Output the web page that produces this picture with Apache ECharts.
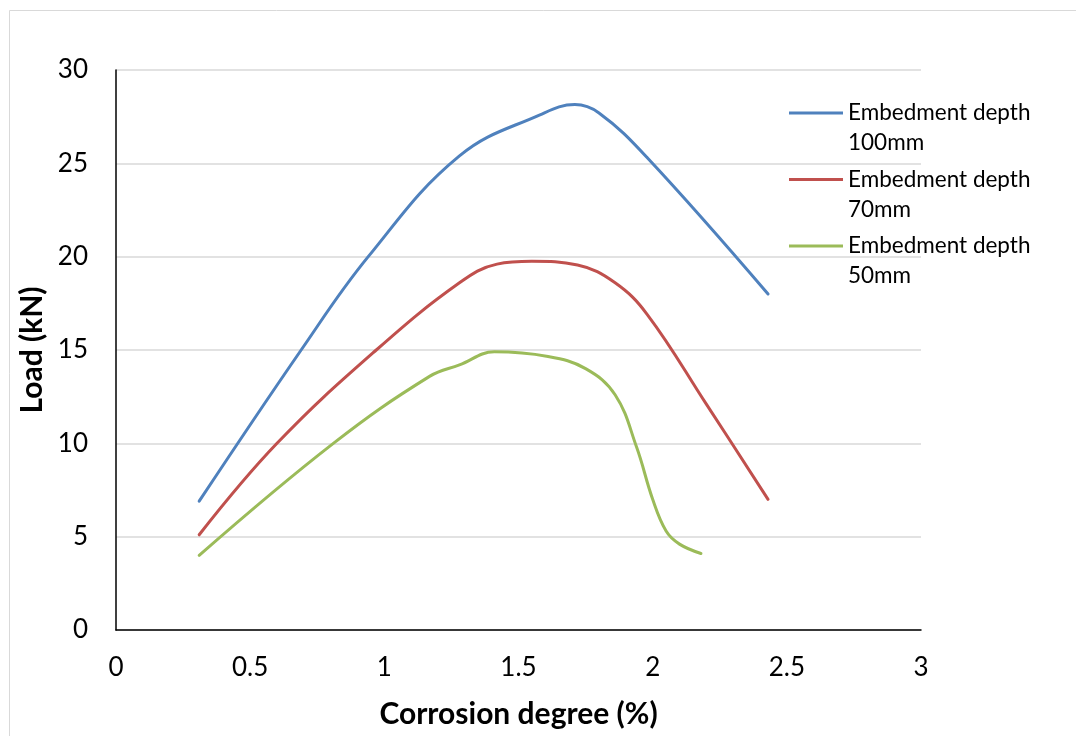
<!DOCTYPE html>
<html>
<head>
<meta charset="utf-8">
<script src="https://cdn.jsdelivr.net/npm/echarts@6/dist/echarts.min.js"></script>
<style>
html,body{margin:0;padding:0;background:#fff;}
#chart{width:1076px;height:736px;}
</style>
</head>
<body>
<div id="chart"></div>
<script>
// ---- Data ----
const seriesNames = ['Embedment depth\n100mm', 'Embedment depth\n70mm', 'Embedment depth\n50mm'];
const depth100 = [[0.31,6.9],[0.69,15],[0.94,20],[1.28,25.4],[1.58,27.6],[1.71,28.15],[1.8,27.7],[1.98,25.3],[2.43,18.0]];
const depth70 = [[0.31,5.1],[0.6,10],[0.97,15],[1.28,18.6],[1.42,19.6],[1.55,19.75],[1.72,19.55],[1.86,18.6],[1.98,16.9],[2.2,12.1],[2.43,7.0]];
const depth50 = [[0.31,4.0],[0.81,10],[1.17,13.6],[1.28,14.2],[1.41,14.9],[1.61,14.65],[1.75,14.0],[1.86,12.6],[1.94,9.8],[2.0,7.0],[2.05,5.3],[2.1,4.6],[2.18,4.1]];
const xTickLabels = ['0','0.5','1','1.5','2','2.5','3'];
const yTickLabels = ['0','5','10','15','20','25','30'];
const xAxisTitle = 'Corrosion degree (%)';
const yAxisTitle = 'Load (kN)';
const colors = ['#4F81BD', '#C0504D', '#9BBB59'];

const chart = echarts.init(document.getElementById('chart'), null, {renderer: 'canvas'});
const font = 'Lato';
const legendIcon = 'path://M0,0h54v3h-54Z M0,32.99h54v0.01h-54Z';

const option = {
  backgroundColor: '#fff',
  animation: false,
  color: colors,
  graphic: [{
    type: 'rect',
    shape: {x: 9.5, y: 10.5, width: 1200, height: 900},
    style: {fill: 'none', stroke: '#d9d9d9', lineWidth: 1},
    silent: true
  }],
  grid: {left: 116, right: 155, top: 70, bottom: 106, containLabel: false},
  legend: {
    orient: 'vertical',
    left: 789,
    top: 98,
    padding: 0,
    itemGap: 6.5,
    itemWidth: 54,
    itemHeight: 33,
    symbolKeepAspect: false,
    icon: legendIcon,
    itemStyle: {borderWidth: 0},
    textStyle: {fontFamily: font, fontSize: 22.5, color: '#000', lineHeight: 30},
    data: seriesNames
  },
  xAxis: {
    type: 'value',
    min: 0, max: 3, interval: 0.5,
    name: xAxisTitle,
    nameLocation: 'middle',
    nameGap: 69,
    nameTextStyle: {fontFamily: font, fontSize: 30, fontWeight: 'bold', color: '#000'},
    axisLine: {show: true, onZero: false, lineStyle: {color: '#000', width: 1.5}},
    axisTick: {show: false},
    splitLine: {show: false},
    axisLabel: {
      fontFamily: font, fontSize: 26, color: '#000', margin: 25,
      formatter: v => xTickLabels[Math.round(v / 0.5)]
    }
  },
  yAxis: {
    type: 'value',
    min: 0, max: 30, interval: 5,
    name: yAxisTitle,
    nameLocation: 'middle',
    nameGap: 65,
    nameRotate: 90,
    nameTextStyle: {fontFamily: font, fontSize: 30, fontWeight: 'bold', color: '#000'},
    axisLine: {show: true, lineStyle: {color: '#000', width: 1.5}},
    axisTick: {show: false},
    splitLine: {show: true, lineStyle: {color: '#d9d9d9', width: 1.5}},
    axisLabel: {
      fontFamily: font, fontSize: 26, color: '#000', margin: 28,
      formatter: v => yTickLabels[Math.round(v / 5)]
    }
  },
  series: [depth100, depth70, depth50].map((d, i) => ({
    name: seriesNames[i],
    type: 'line',
    data: d,
    smooth: 0.4,
    showSymbol: false,
    symbol: 'none',
    lineStyle: {width: 3, color: colors[i], cap: 'round'},
    itemStyle: {color: colors[i]},
    z: 3 - i
  }))
};
chart.setOption(option);
</script>
</body>
</html>
